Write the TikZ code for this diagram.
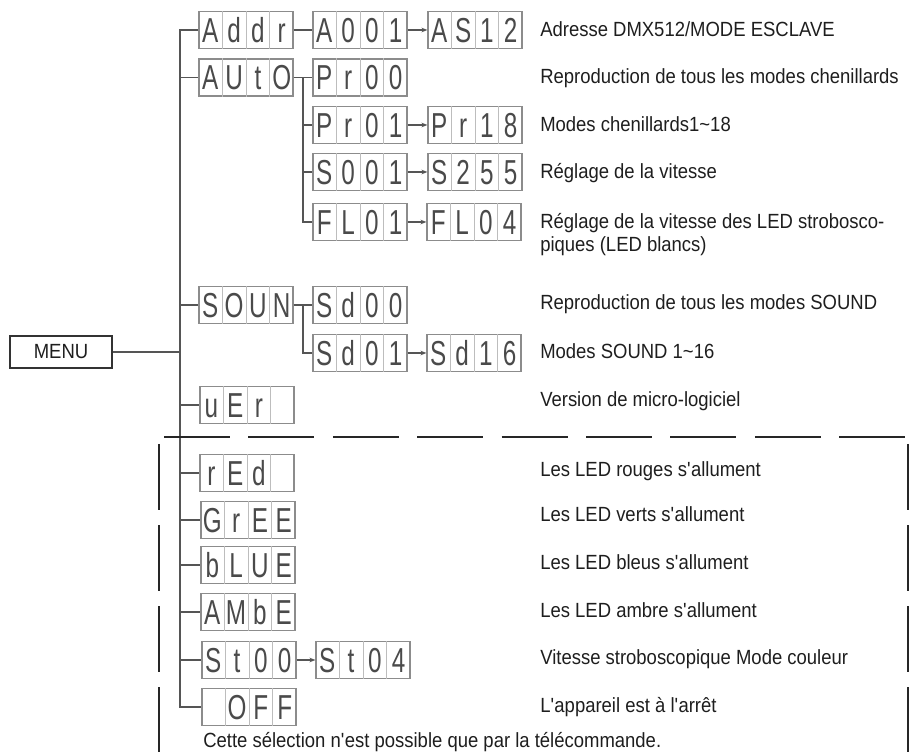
\documentclass[tikz,border=0pt]{standalone}
\usepackage{fontspec}
\setmainfont{Liberation Sans}[FakeStretch=0.9]
\newfontfamily\segfont{Liberation Sans}[FakeStretch=0.7]
\usetikzlibrary{calc,arrows.meta}
\definecolor{boxgray}{HTML}{8C8C8C}
\definecolor{divgray}{HTML}{BDBDBD}
\definecolor{linegray}{HTML}{555555}
\definecolor{segcol}{HTML}{4A4A4A}
\definecolor{txt}{HTML}{1E1E1E}
\tikzset{
 disp/.style={draw=boxgray, line width=0.9pt, minimum width=70.5pt, minimum height=27.75pt, inner sep=0pt},
 divider/.style={draw=divgray, line width=0.7pt},
 segchar/.style={font=\segfont\fontsize{26}{26}\selectfont, text=segcol, inner sep=0pt, text height=18.6pt, text depth=0pt},
 conn/.style={draw=linegray, line width=1.1pt},
 arr/.style={conn, -{Stealth[length=4.5pt,width=3.5pt]}},
 desc/.style={font=\fontsize{15.4}{17.5}\selectfont, text=txt, inner sep=0pt, anchor=base west},
 sepline/.style={draw=black!85, line width=0.9pt},
 menubox/.style={draw=black!80, line width=0.8pt, minimum width=76.5pt, minimum height=24pt, inner sep=0pt, font=\fontsize{15.4}{17.5}\selectfont, text=txt},
}
\newcommand\dispbox[6]{%
 \node[disp] (#1) at (#2) {};
 \foreach \dv in {1,2,3}{\draw[divider] ($(#1.north west)!\dv/4!(#1.north east)$) -- ($(#1.south west)!\dv/4!(#1.south east)$);}
 \node[segchar] (#1-c1) at ($(#1.west)!0.125!(#1.east)$) {#3};
 \node[segchar] (#1-c2) at ($(#1.west)!0.375!(#1.east)$) {#4};
 \node[segchar] (#1-c3) at ($(#1.west)!0.625!(#1.east)$) {#5};
 \node[segchar] (#1-c4) at ($(#1.west)!0.875!(#1.east)$) {#6};
}
\newcommand\aq{\textquotesingle}
\begin{document}
\begin{tikzpicture}[x=0.75pt,y=-0.75pt]
\useasboundingbox (0,0) rectangle (911,755);

% menu
\node[menubox] (menu) at (61,352) {MENU};

% displays
\dispbox{addr}{246,30}{A}{d}{d}{r}
\dispbox{a001}{360,30}{A}{0}{0}{1}
\dispbox{as12}{475,30}{A}{S}{1}{2}
\dispbox{auto}{246,77.5}{A}{U}{t}{O}
\dispbox{pr00}{360,77.5}{P}{r}{0}{0}
\dispbox{pr01}{360,125}{P}{r}{0}{1}
\dispbox{pr18}{475,125}{P}{r}{1}{8}
\dispbox{s001}{360,172}{S}{0}{0}{1}
\dispbox{s255}{475,172}{S}{2}{5}{5}
\dispbox{fl01}{360,222}{F}{L}{0}{1}
\dispbox{fl04}{474,222}{F}{L}{0}{4}
\dispbox{soun}{246,305}{S}{O}{U}{N}
\dispbox{sd00}{360,305}{S}{d}{0}{0}
\dispbox{sd01}{360,353}{S}{d}{0}{1}
\dispbox{sd16}{474,353}{S}{d}{1}{6}
\dispbox{ver}{247,405}{u}{E}{r}{}
\dispbox{red}{247,473}{r}{E}{d}{}
\dispbox{gree}{248,520}{G}{r}{E}{E}
\dispbox{blue}{248,565}{b}{L}{U}{E}
\dispbox{ambe}{248,612}{A}{M}{b}{E}
\dispbox{st00}{249,660}{S}{t}{0}{0}
\dispbox{st04}{363,660}{S}{t}{0}{4}
\dispbox{off}{249,707}{}{O}{F}{F}

% trunk
\coordinate (trunk) at (180,30);
\coordinate (sub) at (303,77.5);
\draw[conn] (addr.west) -- (addr.west -| trunk) -- (off.west -| trunk) -- (off.west);
\draw[conn] (menu.east) -- (menu.east -| trunk);
\foreach \b in {auto,soun,ver,red,gree,blue,ambe,st00}{\draw[conn] (\b.west -| trunk) -- (\b.west);}

% second level
\draw[conn] (addr.east) -- (a001.west);
\draw[arr] (a001.east) -- (as12.west);
\draw[conn] (auto.east) -- (pr00.west);
\draw[conn] (auto.east -| sub) |- (fl01.west);
\draw[conn] (pr01.west -| sub) -- (pr01.west);
\draw[conn] (s001.west -| sub) -- (s001.west);
\draw[arr] (pr01.east) -- (pr18.west);
\draw[arr] (s001.east) -- (s255.west);
\draw[arr] (fl01.east) -- (fl04.west);
\draw[conn] (soun.east) -- (sd00.west);
\draw[conn] (soun.east -| sub) |- (sd01.west);
\draw[arr] (sd01.east) -- (sd16.west);
\draw[arr] (st00.east) -- (st04.west);

% separators
\draw[sepline, dash pattern=on 49.5pt off 13.8pt] (164,437) -- (905,437);
\draw[sepline, dash pattern=on 49.5pt off 11.3pt] (159,444) -- (159,752);
\draw[sepline, dash pattern=on 49.5pt off 11.3pt] (908,444) -- (908,752);

% descriptions
\node[desc] (d1) at (540,37) {Adresse DMX512/MODE ESCLAVE};
\node[desc] (d2) at (540,84) {Reproduction de tous les modes chenillards};
\node[desc] (d3) at (540,132) {Modes chenillards1\textasciitilde18};
\node[desc] (d4) at (540,179) {Réglage de la vitesse};
\node[desc] (d5) at (540,229) {Réglage de la vitesse des LED strobosco-};
\node[desc] (d5b) at (540,252) {piques (LED blancs)};
\node[desc] (d6) at (540,310) {Reproduction de tous les modes SOUND};
\node[desc] (d7) at (540,359) {Modes SOUND 1\textasciitilde16};
\node[desc] (d8) at (540,407) {Version de micro-logiciel};
\node[desc] (d9) at (540,477) {Les LED rouges s\aq allument};
\node[desc] (d10) at (540,522) {Les LED verts s\aq allument};
\node[desc] (d11) at (540,570) {Les LED bleus s\aq allument};
\node[desc] (d12) at (540,617) {Les LED ambre s\aq allument};
\node[desc] (d13) at (540,664) {Vitesse stroboscopique Mode couleur};
\node[desc] (d14) at (540,712) {L\aq appareil est à l\aq arrêt};
\node[desc] (foot) at (203,747) {Cette sélection n\aq est possible que par la télécommande.};
\end{tikzpicture}
\end{document}
